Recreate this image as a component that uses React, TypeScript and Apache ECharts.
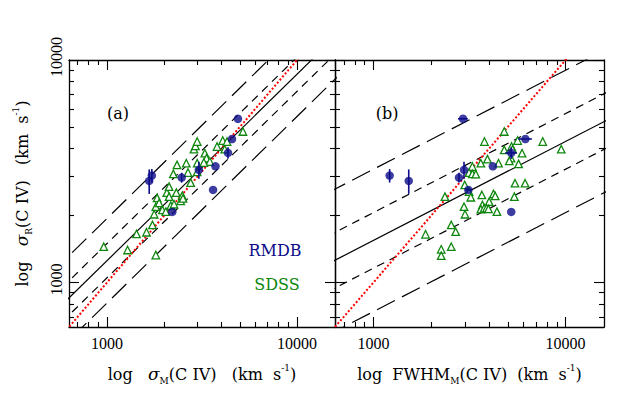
import React, { useEffect, useRef } from 'react';
import * as echarts from 'echarts';

// ---------- data (km/s) ----------
const rmdbSigmaR = [3022, 2860, 5440, 2960, 3206, 2605, 3324, 3823, 4413, 2074];
const rmdbSigmaRErr = [210, 360, 0, 150, 280, 0, 0, 230, 0, 0];
const rmdbSigmaM = [1720, 1666, 4887, 2470, 3042, 3614, 3721, 4330, 4545, 2205];
const rmdbSigmaMErr = [0, 0, 0, 0, 0, 0, 0, 0, 0, 0];
const rmdbFwhmM = [1213, 1525, 2924, 2786, 2958, 3118, 4182, 5212, 6175, 5212];
const rmdbFwhmMErr = [0, 0, 170, 0, 0, 115, 0, 360, 500, 0];

const sdssSigmaM = [960, 1282, 1429, 1612, 1733, 1805, 1769, 1805, 1834, 1955, 2037, 2062, 2120, 2120, 2163, 2251, 2232, 2314, 2440, 2488, 2334, 2612, 2666, 2754, 2866, 2918, 2981, 2981, 2981, 3271, 3339, 3474, 3231, 3794, 4064, 4163, 4280, 5191, 2509, 1879];
const sdssSigmaRa = [1447, 1398, 1651, 1680, 1812, 1327, 2025, 2190, 2398, 2117, 2080, 2533, 2696, 2430, 2213, 2246, 3075, 2533, 2324, 2455, 3376, 3436, 3118, 2809, 3972, 4111, 3436, 3141, 4298, 3811, 3620, 3494, 3458, 4082, 4343, 3972, 4298, 4769, 2386, 2276];
const sdssFwhmM = [4793, 3780, 5627, 7605, 5234, 5298, 4793, 9495, 5933, 5196, 5091, 3919, 3620, 4476, 5694, 3271, 3144, 3271, 3408, 2985, 5453, 6152, 3144, 3208, 2353, 3664, 4213, 4300, 5408, 4000, 2959, 3690, 3620, 3766, 3872, 3966, 4390, 2995, 2539, 2678, 1866, 2251, 2539, 2251];
const sdssSigmaRb = [4769, 4298, 4343, 4298, 4082, 3972, 3943, 3972, 3811, 3620, 3520, 3583, 3436, 3436, 3412, 3317, 3118, 3075, 3066, 2743, 2792, 2792, 2559, 2415, 2430, 2473, 2499, 2447, 2430, 2308, 2190, 2229, 2133, 2154, 2154, 2139, 2080, 2025, 1812, 1690, 1645, 1408, 1447, 1318];

// fit lines in log space: log y = intercept + slope * log x (+/- scatter)
const fitIntercept = [0.584, 1.854];
const fitSlope = [0.838, 0.445];
const scatterInner = [0.077, 0.125];
const scatterOuter = [0.19, 0.32];

// axes
const xRange = [630, 15849];
const yRange = [630, 10000];
const majorTicks = [1000, 10000];
const minorTicks = [700, 800, 900, 2000, 3000, 4000, 5000, 6000, 7000, 8000, 9000];
const panelLabels = ['(a)', '(b)'];

const lg = (v: number) => Math.log10(v);
const FONT = "'DejaVu Serif', serif";
const LFONT = "'Liberation Serif', serif";
const BLUE = '#0c0c8a';
const GREEN = '#0f870f';

const rich: any = {
  t: { fontFamily: FONT, fontSize: 16, color: '#000', lineHeight: 22 },
  g: { fontFamily: FONT, fontSize: 17, fontStyle: 'italic', color: '#000', lineHeight: 22 },
  s: { fontFamily: FONT, fontSize: 9, color: '#000', lineHeight: 9, verticalAlign: 'bottom' },
  p: { fontFamily: FONT, fontSize: 9, color: '#000', lineHeight: 9, verticalAlign: 'top' },
};

const xNames = [
  '{t|log   }{g|σ}{s|M}{t|(C IV)   (km  s}{p|-1}{t|)}',
  '{t|log  FWHM}{s|M}{t|(C IV)  (km  s}{p|-1}{t|)}',
];
const yName = '{t|log   }{g|σ}{s|R}{t|(C IV)   (km  s}{p|-1}{t|)}';

function axis(kind: 'x' | 'y', gridIndex: number, position: string, ticks: number[], len: number, opts: any = {}) {
  const range = kind === 'x' ? xRange : yRange;
  const a: any = {
    type: 'value',
    gridIndex,
    position,
    min: lg(range[0]),
    max: lg(range[1]),
    axisLine: { show: !!opts.line, onZero: false, lineStyle: { color: '#000', width: 1.3 } },
    axisTick: { show: true, inside: true, length: len, customValues: ticks.map(lg), lineStyle: { color: '#000', width: 1.1 } },
    axisLabel: { show: false },
    splitLine: { show: false },
  };
  if (opts.label) {
    a.axisLabel = {
      show: true,
      customValues: majorTicks.map(lg),
      formatter: (v: number) => String(Math.round(Math.pow(10, v))),
      margin: kind === 'x' ? 8 : 5,
      rotate: kind === 'y' ? 90 : 0,
      padding: kind === 'y' ? [0, 0, 0, 6] : 0,
      fontFamily: LFONT,
      fontSize: 16,
      color: '#000',
    };
  }
  if (opts.name) {
    a.name = opts.name;
    a.nameLocation = 'middle';
    a.nameGap = 36;
    a.nameTextStyle = { rich };
  }
  return a;
}

function buildOption() {
  const grids = [
    { left: 69, top: 60, width: 266, height: 267 },
    { left: 335, top: 60, width: 269, height: 267 },
  ];
  const xAxes: any[] = [];
  const yAxes: any[] = [];
  for (let g = 0; g < 2; g++) {
    xAxes.push(axis('x', g, 'bottom', majorTicks, 10, { line: true, label: true, name: xNames[g] }));
    xAxes.push(axis('x', g, 'bottom', minorTicks, 5));
    xAxes.push(axis('x', g, 'top', majorTicks, 10, { line: true }));
    xAxes.push(axis('x', g, 'top', minorTicks, 5));
    yAxes.push(axis('y', g, 'left', majorTicks, 10, { line: true, label: g === 0, name: g === 0 ? yName : undefined }));
    yAxes.push(axis('y', g, 'left', minorTicks, 5));
    yAxes.push(axis('y', g, 'right', majorTicks, 10, { line: true }));
    yAxes.push(axis('y', g, 'right', minorTicks, 5));
  }

  const series: any[] = [];
  const panelData = [
    { gx: sdssSigmaM, gy: sdssSigmaRa, bx: rmdbSigmaM, bxe: rmdbSigmaMErr },
    { gx: sdssFwhmM, gy: sdssSigmaRb, bx: rmdbFwhmM, bxe: rmdbFwhmMErr },
  ];
  const lx0 = 2.5, lx1 = 4.5;
  for (let p = 0; p < 2; p++) {
    const ai = p * 4;
    const a = fitIntercept[p], b = fitSlope[p];
    const offs = [
      { k: 0, type: 'solid' },
      { k: scatterInner[p], type: [8, 6] },
      { k: -scatterInner[p], type: [8, 6] },
      { k: scatterOuter[p], type: [20, 8] },
      { k: -scatterOuter[p], type: [20, 8] },
    ];
    offs.forEach((o) => {
      series.push({
        type: 'line', xAxisIndex: ai, yAxisIndex: ai, silent: true, symbol: 'none', clip: true,
        data: [[lx0, a + b * lx0 + o.k], [lx1, a + b * lx1 + o.k]],
        lineStyle: { color: '#000', width: 1.2, type: o.type },
        z: 2,
      });
    });
    series.push({
      type: 'line', xAxisIndex: ai, yAxisIndex: ai, silent: true, symbol: 'none', clip: true,
      data: [[lx0, lx0], [lx1, lx1]],
      lineStyle: { color: '#ff0000', width: 2, type: [2, 2] },
      z: 3,
    });
    const d = panelData[p];
    series.push({
      type: 'scatter', xAxisIndex: ai, yAxisIndex: ai, symbol: 'triangle', symbolSize: 7.5,
      data: d.gx.map((x, i) => [lg(x), lg(d.gy[i])]),
      itemStyle: { color: '#ffffff', borderColor: GREEN, borderWidth: 1.3, opacity: 1 },
      z: 4,
    });
    series.push({
      type: 'custom', xAxisIndex: ai, yAxisIndex: ai, silent: true, z: 5,
      data: d.bx.map((x, i) => [
        lg(x), lg(rmdbSigmaR[i]),
        lg(rmdbSigmaR[i] - rmdbSigmaRErr[i]), lg(rmdbSigmaR[i] + rmdbSigmaRErr[i]),
        lg(x - d.bxe[i]), lg(x + d.bxe[i]),
      ]),
      renderItem: (_params: any, api: any) => {
        const x = api.value(0), y = api.value(1);
        const children: any[] = [];
        const st = { stroke: BLUE, lineWidth: 1.6 };
        if (api.value(3) > api.value(2)) {
          const c1 = api.coord([x, api.value(2)]), c2 = api.coord([x, api.value(3)]);
          children.push({ type: 'line', shape: { x1: c1[0], y1: c1[1], x2: c2[0], y2: c2[1] }, style: st });
        }
        if (api.value(5) > api.value(4)) {
          const c1 = api.coord([api.value(4), y]), c2 = api.coord([api.value(5), y]);
          children.push({ type: 'line', shape: { x1: c1[0], y1: c1[1], x2: c2[0], y2: c2[1] }, style: st });
        }
        return { type: 'group', children };
      },
    });
    series.push({
      type: 'scatter', xAxisIndex: ai, yAxisIndex: ai, symbol: 'circle', symbolSize: 8.5,
      data: d.bx.map((x, i) => [lg(x), lg(rmdbSigmaR[i])]),
      itemStyle: { color: BLUE },
      z: 6,
    });
  }

  const txt = (x: number, y: number, text: string, size: number, fill: string) => ({
    type: 'text', x, y, silent: true, z: 10,
    style: { text, fontFamily: FONT, fontSize: size, fill, textAlign: 'center', textVerticalAlign: 'middle' },
  });

  return {
    animation: false,
    backgroundColor: '#ffffff',
    grid: grids,
    xAxis: xAxes,
    yAxis: yAxes,
    series,
    graphic: [
      txt(118, 113, panelLabels[0], 16, '#000'),
      txt(387, 113, panelLabels[1], 16, '#000'),
      txt(275, 250, 'RMDB', 16, BLUE),
      txt(277, 284, 'SDSS', 16, GREEN),
    ],
  };
}

export default function App() {
  const ref = useRef<HTMLDivElement>(null);
  useEffect(() => {
    const chart = echarts.init(ref.current!, null, { renderer: 'svg' });
    chart.setOption(buildOption() as any);
    return () => chart.dispose();
  }, []);
  return (
    <div
      ref={ref}
      style={{ position: 'fixed', left: 0, top: 0, width: 638, height: 396, background: '#fff' }}
    />
  );
}
